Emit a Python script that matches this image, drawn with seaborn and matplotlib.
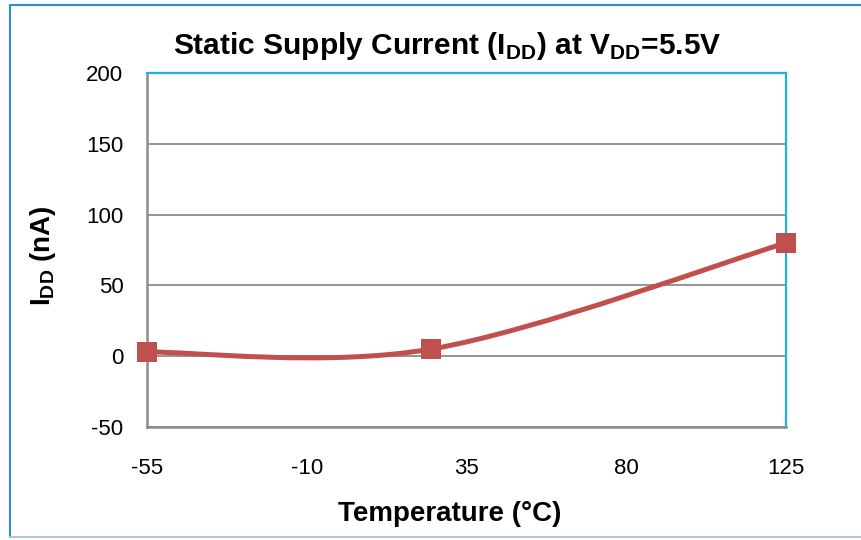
import numpy as np
import pandas as pd
import seaborn as sns
import matplotlib.pyplot as plt
from matplotlib.path import Path
from matplotlib.patches import PathPatch
from matplotlib.lines import Line2D

# data
temperature = [-55, 25, 125]
idd_na = [3, 5, 80]
x_ticks = [-55, -10, 35, 80, 125]
y_ticks = [-50, 0, 50, 100, 150, 200]

sns.set_theme(style="white")
plt.rcParams['font.family'] = ['Liberation Sans', 'DejaVu Sans']
plt.rcParams['mathtext.fontset'] = 'custom'
plt.rcParams['mathtext.rm'] = 'Liberation Sans'
plt.rcParams['mathtext.bf'] = 'Liberation Sans:bold'
plt.rcParams['axes.unicode_minus'] = False
plt.rcParams['text.color'] = 'black'
plt.rcParams['axes.labelcolor'] = 'black'

df = pd.DataFrame({"temp": temperature, "idd": idd_na})
red = "#C0504D"

fig = plt.figure(figsize=(8.61, 5.4), dpi=100)
ax = fig.add_axes([147 / 861, 1 - 427 / 540, 639 / 861, 354 / 540])

# outer chart frame: blue left/top, pale bottom
x0, y0, y1 = 10 / 861, 3 / 540, 1 - 5 / 540
fig.add_artist(Line2D([x0, x0], [y0, y1], transform=fig.transFigure, color="#2E8FD6", linewidth=1.5))
fig.add_artist(Line2D([x0, 1], [y1, y1], transform=fig.transFigure, color="#2E8FD6", linewidth=1.5))
fig.add_artist(Line2D([x0, 1], [y0, y0], transform=fig.transFigure, color="#A8C6DE", linewidth=1.5))

# Excel-style smoothed line (bezier through the points)
pts = np.column_stack([df["temp"], df["idd"]]).astype(float)
padded = np.vstack([pts[0], pts, pts[-1]])
verts = [tuple(pts[0])]
codes = [Path.MOVETO]
for i in range(len(pts) - 1):
    p_prev, p0, p1, p_next = padded[i], padded[i + 1], padded[i + 2], padded[i + 3]
    c1 = p0 + (p1 - p_prev) / 6
    c2 = p1 - (p_next - p0) / 6
    verts += [tuple(c1), tuple(c2), tuple(p1)]
    codes += [Path.CURVE4] * 3
ax.add_patch(PathPatch(Path(verts, codes), facecolor="none", edgecolor=red,
                       linewidth=3.6, capstyle="round", zorder=3, clip_on=False))

sns.scatterplot(data=df, x="temp", y="idd", marker="s", s=190, color=red,
                edgecolor=red, linewidth=0, ax=ax, zorder=4, clip_on=False)

ax.set_xlim(-55, 125)
ax.set_ylim(-50, 200)
ax.set_xticks(x_ticks)
ax.set_yticks(y_ticks)
ax.tick_params(axis="both", length=0, labelsize=16, colors="black")
ax.tick_params(axis="x", pad=22)
ax.tick_params(axis="y", pad=17)
ax.yaxis.grid(True, color="#8C8C8C", linewidth=1.3)
ax.set_axisbelow(True)

for side in ["left", "bottom"]:
    ax.spines[side].set_color("#8C8C8C")
    ax.spines[side].set_linewidth(1.8)
for side in ["top", "right"]:
    ax.spines[side].set_color("#1FB0E8")
    ax.spines[side].set_linewidth(1.6)

ax.set_xlabel("Temperature (°C)", fontsize=20, fontweight="bold", labelpad=16, x=0.473)
ax.set_ylabel(r"I$_\mathbf{DD}$ (nA)", fontsize=20, fontweight="bold", labelpad=20, y=0.485)
ax.set_title(r"Static Supply Current (I$_\mathbf{DD}$) at V$_\mathbf{DD}$=5.5V",
             fontsize=21.5, fontweight="bold", pad=14, x=0.47)

fig.savefig("out.png", dpi=100)
